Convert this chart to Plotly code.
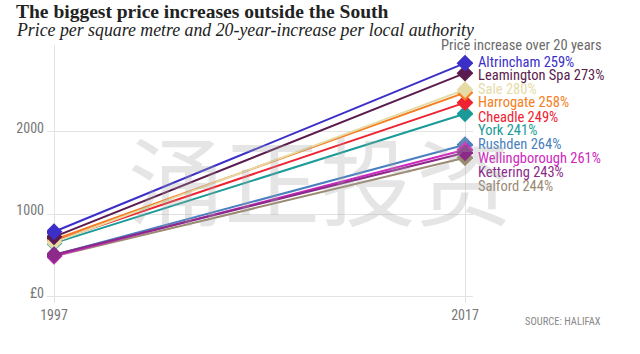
import plotly.graph_objects as go

# ---- data ----
years = [1997, 2017]
names = ["Altrincham", "Leamington Spa", "Sale", "Harrogate", "Cheadle", "York",
         "Rushden", "Wellingborough", "Kettering", "Salford"]
pct_increase = [259, 273, 280, 258, 249, 241, 264, 261, 243, 244]
price_1997 = [788, 726, 660, 691, 674, 650, 506, 494, 509, 490]
price_2017 = [2830, 2709, 2509, 2473, 2352, 2218, 1842, 1782, 1745, 1685]
colors = ["#3b2fc8", "#5b1b4e", "#e6dba6", "#f57e22", "#ee2230", "#1a9b98",
          "#4a7fc0", "#cf27c0", "#8b2a88", "#9a8a72"]
y_ticks = [0, 1000, 2000]
y_ticktext = ["£0", "1000", "2000"]
x_ticktext = ["1997", "2017"]

# ---- layout constants ----
W, H = 640, 354
M_L, M_R, M_T, M_B = 47, 167, 45, 51
label_px = [62, 75.5, 89, 103, 117, 130.5, 144, 158, 172, 186]
draw_order = [5, 4, 3, 2, 1, 0, 9, 6, 7, 8]
NARROW = "Liberation Sans Narrow, Roboto Condensed, Arial Narrow, Roboto, sans-serif"

fig = go.Figure()
for i in draw_order:
    fig.add_trace(go.Scatter(
        x=years, y=[price_1997[i], price_2017[i]], mode="lines+markers",
        line=dict(color=colors[i], width=2),
        marker=dict(symbol="diamond", size=13, color=colors[i]),
        name=names[i], showlegend=False, hoverinfo="skip"))

plot_h = H - M_T - M_B


def py(px):
    return (H - M_B - px) / plot_h


annotations = []
for i, n in enumerate(names):
    annotations.append(dict(
        x=2017, xref="x", xshift=11, xanchor="left",
        y=py(label_px[i]), yref="paper", yanchor="middle",
        text=f"{n} {pct_increase[i]}%", showarrow=False,
        font=dict(family=NARROW, size=14.5, color=colors[i])))

annotations += [
    dict(x=0, xref="paper", xanchor="left", xshift=14 - M_L,
         y=py(11), yref="paper", yanchor="middle",
         text="<b>The biggest price increases outside the South</b>", showarrow=False,
         font=dict(family="Liberation Serif, serif", size=19.5, color="#222")),
    dict(x=0, xref="paper", xanchor="left", xshift=14 - M_L,
         y=py(30), yref="paper", yanchor="middle",
         text="<i>Price per square metre and 20-year-increase per local authority</i>",
         showarrow=False,
         font=dict(family="Liberation Serif, serif", size=17.8, color="#222")),
    dict(x=1, xref="paper", xanchor="left", xshift=439 - (W - M_R),
         y=py(45), yref="paper", yanchor="middle",
         text="Price increase over 20 years", showarrow=False,
         font=dict(family=NARROW, size=14.5, color="#6b6b6b")),
    dict(x=1, xref="paper", xanchor="left", xshift=523 - (W - M_R),
         y=py(321), yref="paper", yanchor="middle",
         text="SOURCE: HALIFAX", showarrow=False,
         font=dict(family=NARROW, size=10.5, color="#888")),
    dict(x=0, xref="paper", xanchor="left", xshift=126 - M_L,
         y=py(176), yref="paper", yanchor="middle",
         text="涌正投资", showarrow=False,
         font=dict(family="Noto Sans CJK SC", size=96, color="rgba(160,160,160,0.28)")),
]

x_left = 1997 - 7 / 20.55
x_right = 2017 + 8 / 20.55
fig.update_layout(
    width=W, height=H, margin=dict(l=M_L, r=M_R, t=M_T, b=M_B),
    paper_bgcolor="white", plot_bgcolor="white",
    annotations=annotations,
    xaxis=dict(range=[x_left, x_right], tickvals=years, ticktext=x_ticktext,
               showgrid=True, gridcolor="#e3e3e3", gridwidth=1, zeroline=False,
               showline=False, ticks="", tickfont=dict(family=NARROW, size=14, color="#777"),
               ticklabelstandoff=2, fixedrange=True),
    yaxis=dict(range=[-75, 3050], tickvals=y_ticks, ticktext=y_ticktext,
               showgrid=True, gridcolor="#e3e3e3", gridwidth=1, zeroline=False,
               showline=False, ticks="", tickfont=dict(family=NARROW, size=14, color="#777"),
               ticklabelshift=-4, ticklabelstandoff=2, fixedrange=True),
)

fig.write_html("out.html")
